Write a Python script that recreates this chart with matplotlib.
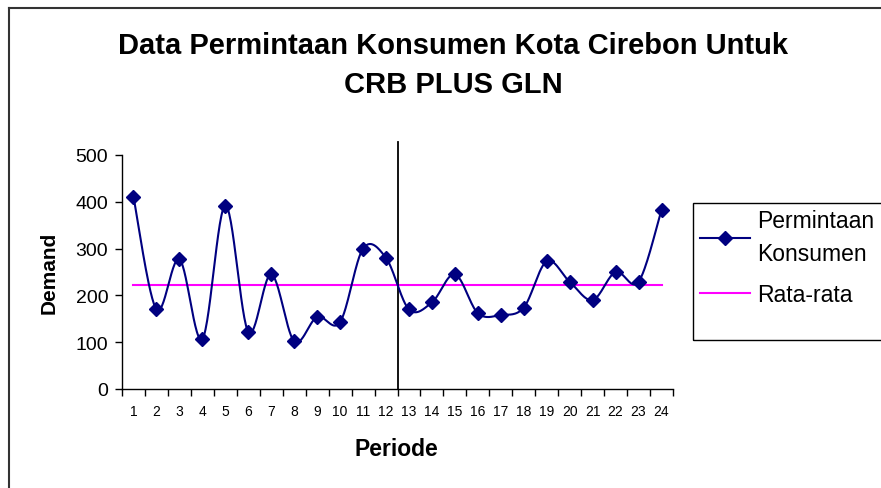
import numpy as np
import matplotlib
matplotlib.use("Agg")
import matplotlib.pyplot as plt

plt.rcParams['font.family'] = ['Liberation Sans', 'DejaVu Sans']

# data
periode = list(range(1, 25))
permintaan = [410, 170, 277, 107, 392, 122, 245, 102, 154, 143, 300, 280,
              170, 185, 245, 162, 158, 174, 273, 229, 190, 250, 229, 383]
rata_rata = 222
y_ticks = [0, 100, 200, 300, 400, 500]


def smooth(x, y, n=30):
    # excel-like smoothed line: catmull-rom as cubic bezier segments
    x = np.asarray(x, float)
    y = np.asarray(y, float)
    px = np.concatenate([[x[0]], x, [x[-1]]])
    py = np.concatenate([[y[0]], y, [y[-1]]])
    xs, ys = [], []
    t = np.linspace(0, 1, n)
    for i in range(1, len(px) - 2):
        p0 = np.array([px[i], py[i]])
        p3 = np.array([px[i + 1], py[i + 1]])
        p1 = p0 + (p3 - np.array([px[i - 1], py[i - 1]])) / 6
        p2 = p3 - (np.array([px[i + 2], py[i + 2]]) - p0) / 6
        b = (np.outer((1 - t) ** 3, p0) + np.outer(3 * (1 - t) ** 2 * t, p1)
             + np.outer(3 * (1 - t) * t ** 2, p2) + np.outer(t ** 3, p3))
        xs.append(b[:, 0])
        ys.append(b[:, 1])
    return np.concatenate(xs), np.concatenate(ys)


fig = plt.figure(figsize=(8.81, 4.89), dpi=100)
ax = fig.add_axes([0.1385, 0.2025, 0.6254, 0.4785])

sx, sy = smooth(periode, permintaan)
ax.plot(sx, sy, color='#000080', lw=1.5, zorder=3)
ax.plot(periode, permintaan, ls='none', marker='D', ms=7, color='#000080', zorder=4)
ax.plot([periode[0], periode[-1]], [rata_rata, rata_rata], color='#FF00FF', lw=1.5, zorder=2)
ax.plot([12.5, 12.5], [0, 528], color='black', lw=1.3, clip_on=False, zorder=2)

# legend: entries from matplotlib, frame drawn separately (excel leaves space at the bottom)
h1, = ax.plot([], [], color='#000080', lw=1.5, marker='D', ms=7, label='Permintaan\nKonsumen')
h2, = ax.plot([], [], color='#FF00FF', lw=1.5, label='Rata-rata')
leg = fig.legend(handles=[h1, h2], loc='upper left', bbox_to_anchor=(695 / 881, 1 - 205 / 489),
                 fontsize=16.5, frameon=False,
                 handlelength=2.2, handletextpad=0.3, borderpad=0.2, labelspacing=0.75,
                 borderaxespad=0)
for t in leg.get_texts():
    t.set_linespacing(1.6)
fig.add_artist(plt.Rectangle((693 / 881, 1 - 341 / 489), 200 / 881, 137 / 489,
                             fill=False, edgecolor='black', lw=1.0,
                             transform=fig.transFigure))

ax.set_xlim(0.5, 24.5)
ax.set_ylim(0, 500)
ax.set_yticks(y_ticks)
ax.tick_params(axis='y', labelsize=14, direction='out', length=5, width=1, pad=5)
ax.set_xticks(np.arange(0.5, 25, 1))
ax.set_xticklabels([])
ax.set_xticks(periode, minor=True)
ax.set_xticklabels([str(p) for p in periode], minor=True, fontsize=10)
ax.tick_params(axis='x', which='major', direction='out', length=5, width=1)
ax.tick_params(axis='x', which='minor', length=0, pad=11)
for s in ['top', 'right']:
    ax.spines[s].set_visible(False)
for s in ['left', 'bottom']:
    ax.spines[s].set_linewidth(1.0)

ax.set_ylabel('Demand', fontsize=15, fontweight='bold')
ax.yaxis.set_label_coords(-0.115, 0.5)
fig.text(396 / 881, 1 - 450 / 489, 'Periode', fontsize=16.5, fontweight='bold',
         ha='center', va='center')

fig.text(453 / 881, 1 - 46 / 489, 'Data Permintaan Konsumen Kota Cirebon Untuk',
         fontsize=21, fontweight='bold', ha='center', va='center')
fig.text(453 / 881, 1 - 85 / 489, 'CRB PLUS GLN',
         fontsize=21, fontweight='bold', ha='center', va='center')

# outer chart border (only top and left visible in the crop)
fig.add_artist(plt.Line2D([9 / 881, 9 / 881], [0, 1 - 9 / 489], color='#333333', lw=1.5,
                          transform=fig.transFigure))
fig.add_artist(plt.Line2D([9 / 881, 1], [1 - 9 / 489, 1 - 9 / 489], color='#333333', lw=1.5,
                          transform=fig.transFigure))

fig.savefig('out.png', dpi=100)
